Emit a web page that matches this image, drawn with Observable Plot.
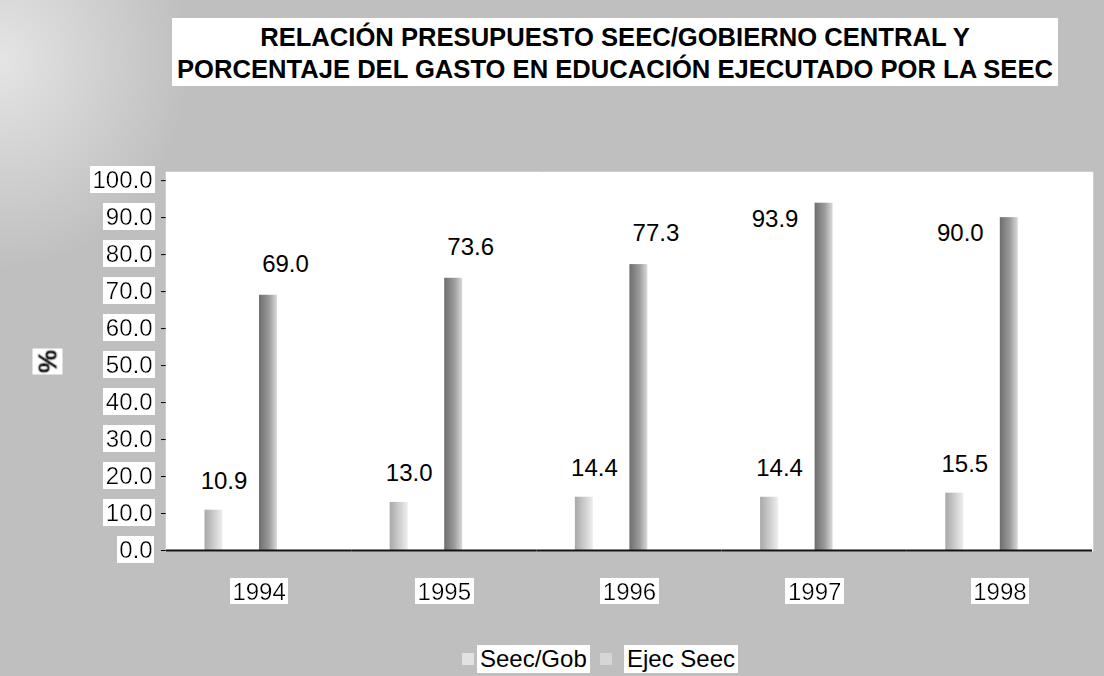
<!DOCTYPE html>
<html>
<head>
<meta charset="utf-8">
<script src="https://cdn.jsdelivr.net/npm/d3@7"></script>
<script src="https://cdn.jsdelivr.net/npm/@observablehq/plot@0.6"></script>
<style>
  body { margin: 0; }
  #page {
    position: relative; width: 1104px; height: 676px; overflow: hidden;
    background:
      radial-gradient(ellipse 190px 210px at 0px 60px, rgba(235,235,235,0.85), rgba(235,235,235,0) 100%),
      #bfbfbf;
    font-family: "Liberation Sans", Arial, sans-serif;
  }
  #title {
    position: absolute; left: 172px; top: 18px; width: 886px; height: 68px;
    background: #fff; color: #000; text-align: center; font-weight: bold; white-space: nowrap;
    font-size: 25.6px; line-height: 32px; padding-top: 3px; box-sizing: border-box;
  }
  #chart { position: absolute; left: 0; top: 0; }
  #chart svg g[aria-label="y-axis tick label"] text,
  #chart svg g[aria-label="fx-axis tick label"] text,
  #chart svg g[aria-description="ylabel"] text {
    filter: url(#bgw);
  }
  #legend { position: absolute; left: 0; top: 644px; width: 1104px; height: 30px; font-size: 24px; }
  .sw { position: absolute; top: 9px; width: 12px; height: 12px; }
  .lt { position: absolute; top: 1px; background: #fff; line-height: 28px; padding: 0 3px; }
</style>
</head>
<body>
<div id="page">
  <div id="chart"></div>
  <div id="title">RELACIÓN PRESUPUESTO SEEC/GOBIERNO CENTRAL Y<br>PORCENTAJE DEL GASTO EN EDUCACIÓN EJECUTADO POR LA SEEC</div>
  <div id="legend"></div>
</div>
<script>
// ---- data ----
const years = ["1994", "1995", "1996", "1997", "1998"];
const seriesNames = ["Seec/Gob", "Ejec Seec"];
const seecGob = [10.9, 13.0, 14.4, 14.4, 15.5];
const ejecSeec = [69.0, 73.6, 77.3, 93.9, 90.0];
const yTicks = [0, 10, 20, 30, 40, 50, 60, 70, 80, 90, 100];
const yLabel = "%";

const rows = [];
years.forEach((yr, i) => {
  rows.push({year: yr, series: seriesNames[0], value: seecGob[i]});
  rows.push({year: yr, series: seriesNames[1], value: ejecSeec[i]});
});
const gob = rows.filter(d => d.series === seriesNames[0]);
const ejec = rows.filter(d => d.series === seriesNames[1]);

const chart = Plot.plot({
  width: 1104,
  height: 676,
  marginLeft: 166,
  marginRight: 12,
  marginTop: 172,
  marginBottom: 126,
  style: {fontFamily: "Liberation Sans, Arial, sans-serif", fontSize: "24px", background: "transparent", color: "#000", overflow: "visible"},
  fx: {domain: years, padding: 0, round: false, tickSize: 0, tickPadding: 32, label: null, axis: "bottom"},
  x: {domain: seriesNames, paddingInner: 0.67, paddingOuter: 1.034, align: 0.3416, round: false, axis: null},
  y: {domain: [0, 102.2], ticks: yTicks, tickFormat: d => d.toFixed(1), tickSize: 5, tickPadding: 9,
      line: true, label: null},
  marks: [
    Plot.frame({fill: "white", stroke: "white", strokeWidth: 1.5}),
    Plot.barY(gob, {fx: "year", x: "series", y: "value", fill: "url(#gGob)"}),
    Plot.barY(ejec, {fx: "year", x: "series", y: "value", fill: "url(#gEjec)"}),
    Plot.ruleY([0], {stroke: "#111", strokeWidth: 2}),
    Plot.text(gob, {fx: "year", x: "series", y: "value", text: d => d.value.toFixed(1), dy: -29, dx: 10, fontSize: 24}),
    Plot.text(ejec, {filter: d => d.value < 85, fx: "year", x: "series", y: "value", text: d => d.value.toFixed(1), dy: -31, dx: 17, fontSize: 24}),
    Plot.text(ejec, {filter: d => d.value >= 85, fx: "year", x: "series", y: "value", text: d => d.value.toFixed(1), dy: 16, dx: -49, fontSize: 24}),
    Plot.text([yLabel], {fx: () => years[0], text: d => d, frameAnchor: "left", textAnchor: "middle", dx: -118, rotate: -90,
      fontWeight: "bold", fontSize: 26, fill: "black", stroke: "black", strokeWidth: 1, ariaDescription: "ylabel"})
  ]
});

const svg = d3.select(chart);
const defs = svg.insert("defs", ":first-child");
const f = defs.append("filter").attr("id", "bgw").attr("x", "-0.04").attr("y", "0.02").attr("width", "1.08").attr("height", "0.96");
f.append("feFlood").attr("flood-color", "white").attr("result", "bg");
const fm = f.append("feMerge");
fm.append("feMergeNode").attr("in", "bg");
fm.append("feMergeNode").attr("in", "SourceGraphic");
const g1 = defs.append("linearGradient").attr("id", "gGob").attr("x1", "0").attr("x2", "1").attr("y1", "0").attr("y2", "0");
g1.append("stop").attr("offset", "0").attr("stop-color", "#a8a8a8");
g1.append("stop").attr("offset", "1").attr("stop-color", "#eeeeee");
const g2 = defs.append("linearGradient").attr("id", "gEjec").attr("x1", "0").attr("x2", "1").attr("y1", "0").attr("y2", "0");
g2.append("stop").attr("offset", "0").attr("stop-color", "#6e6e6e");
g2.append("stop").attr("offset", "0.55").attr("stop-color", "#9a9a9a");
g2.append("stop").attr("offset", "1").attr("stop-color", "#dadada");

document.getElementById("chart").appendChild(chart);

// legend
const legend = document.getElementById("legend");
const legendItems = [
  {name: seriesNames[0], sw: 462, tx: 477, color: "#e2e2e2"},
  {name: seriesNames[1], sw: 600, tx: 624, color: "#d6d6d6"}
];
legendItems.forEach(it => {
  const s = document.createElement("div");
  s.className = "sw"; s.style.left = it.sw + "px"; s.style.background = it.color;
  legend.appendChild(s);
  const t = document.createElement("div");
  t.className = "lt"; t.style.left = it.tx + "px"; t.textContent = it.name;
  legend.appendChild(t);
});
</script>
</body>
</html>
